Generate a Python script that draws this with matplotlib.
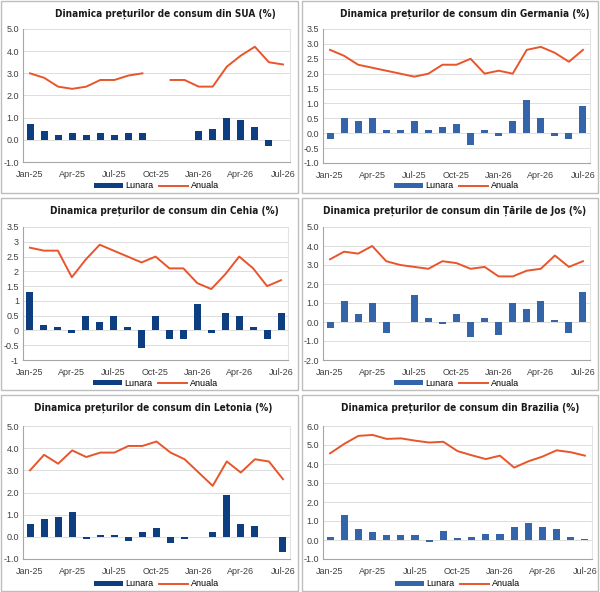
import matplotlib
matplotlib.use("Agg")
import matplotlib.pyplot as plt
import numpy as np
from matplotlib.patches import Rectangle

nan = np.nan

# months Jan-25 .. Jul-26
months = ["Jan-25", "Feb-25", "Mar-25", "Apr-25", "May-25", "Jun-25", "Jul-25",
          "Aug-25", "Sep-25", "Oct-25", "Nov-25", "Dec-25", "Jan-26", "Feb-26",
          "Mar-26", "Apr-26", "May-26", "Jun-26", "Jul-26"]
tick_idx = [0, 3, 6, 9, 12, 15, 18]

# monthly (Lunara) and yearly (Anuala) inflation
sua_lunara = [0.7, 0.4, 0.2, 0.3, 0.2, 0.3, 0.2, 0.3, 0.3, nan, nan, nan,
              0.4, 0.5, 1.0, 0.9, 0.6, -0.3, nan]
sua_anuala = [3.0, 2.8, 2.4, 2.3, 2.4, 2.7, 2.7, 2.9, 3.0, nan, 2.7, 2.7,
              2.4, 2.4, 3.3, 3.8, 4.2, 3.5, 3.4]

ger_lunara = [-0.2, 0.5, 0.4, 0.5, 0.1, 0.1, 0.4, 0.1, 0.2, 0.3, -0.4, 0.1,
              -0.1, 0.4, 1.1, 0.5, -0.1, -0.2, 0.9]
ger_anuala = [2.8, 2.6, 2.3, 2.2, 2.1, 2.0, 1.9, 2.0, 2.3, 2.3, 2.5, 2.0,
              2.1, 2.0, 2.8, 2.9, 2.7, 2.4, 2.8]

cz_lunara = [1.3, 0.2, 0.1, -0.1, 0.5, 0.3, 0.5, 0.1, -0.6, 0.5, -0.3, -0.3,
             0.9, -0.1, 0.6, 0.5, 0.1, -0.3, 0.6]
cz_anuala = [2.8, 2.7, 2.7, 1.8, 2.4, 2.9, 2.7, 2.5, 2.3, 2.5, 2.1, 2.1,
             1.6, 1.4, 1.9, 2.5, 2.1, 1.5, 1.7]

nl_lunara = [-0.3, 1.1, 0.4, 1.0, -0.6, nan, 1.4, 0.2, -0.1, 0.4, -0.8, 0.2,
             -0.7, 1.0, 0.7, 1.1, 0.1, -0.6, 1.6]
nl_anuala = [3.3, 3.7, 3.6, 4.0, 3.2, 3.0, 2.9, 2.8, 3.2, 3.1, 2.8, 2.9,
             2.4, 2.4, 2.7, 2.8, 3.5, 2.9, 3.2]

lv_lunara = [0.6, 0.8, 0.9, 1.1, -0.1, 0.1, 0.1, -0.2, 0.2, 0.4, -0.3, -0.1,
             nan, 0.2, 1.9, 0.6, 0.5, nan, -0.7]
lv_anuala = [3.0, 3.7, 3.3, 3.9, 3.6, 3.8, 3.8, 4.1, 4.1, 4.3, 3.8, 3.5,
             2.9, 2.3, 3.4, 2.9, 3.5, 3.4, 2.6]

br_lunara = [0.16, 1.31, 0.56, 0.43, 0.26, 0.24, 0.26, -0.11, 0.48, 0.09, 0.18, 0.33,
             0.33, 0.70, 0.88, 0.67, 0.58, 0.15, 0.07]
br_anuala = [4.56, 5.06, 5.48, 5.53, 5.32, 5.35, 5.23, 5.13, 5.17, 4.68, 4.46, 4.26,
             4.44, 3.81, 4.14, 4.39, 4.72, 4.62, 4.44]

W, H = 600, 592
fig = plt.figure(figsize=(6.0, 5.92), dpi=100)

text_font = ['Liberation Sans', 'DejaVu Sans']

dark = '#0d3f80'
mid = '#3464aa'
line_col = '#e8552b'

panels = [
    # title, lunara, anuala, ylim, yticks, fmt, bar colour, panel box, axes box (px), title centre x
    ("SUA", sua_lunara, sua_anuala, (-1, 5), np.arange(-1, 5.1, 1), "{:.1f}", dark,
     (1, 1, 298, 193), (23, 29, 290, 162), 165),
    ("Germania", ger_lunara, ger_anuala, (-1, 3.5), np.arange(-1, 3.51, 0.5), "{:.1f}", mid,
     (302, 1, 598, 193), (323, 29, 590, 163), 465),
    ("Cehia", cz_lunara, cz_anuala, (-1, 3.5), np.arange(-1, 3.51, 0.5), "{:g}", dark,
     (1, 198, 298, 390), (23, 227, 288, 360), 164),
    ("Țările de Jos", nl_lunara, nl_anuala, (-2, 5), np.arange(-2, 5.1, 1), "{:.1f}", mid,
     (302, 198, 598, 390), (323, 227, 590, 360), 455),
    ("Letonia", lv_lunara, lv_anuala, (-1, 5), np.arange(-1, 5.1, 1), "{:.1f}", dark,
     (1, 395, 298, 591), (23, 426, 290, 559), 153),
    ("Brazilia", br_lunara, br_anuala, (-1, 6), np.arange(-1, 6.1, 1), "{:.1f}", mid,
     (302, 395, 598, 591), (323, 426, 592, 559), 460),
]

x = np.arange(len(months))

for name, lun, anu, ylim, yt, fmt, bcol, pbox, abox, tcx in panels:
    # panel border
    px0, py0, px1, py1 = pbox
    fig.patches.append(Rectangle((px0 / W, 1 - py1 / H), (px1 - px0) / W, (py1 - py0) / H,
                                 transform=fig.transFigure, fill=False,
                                 edgecolor='#bdbdbd', linewidth=1.0))
    l, t, r, b = abox
    ax = fig.add_axes([l / W, 1 - b / H, (r - l) / W, (b - t) / H])
    bars = ax.bar(x, lun, width=0.5, color=bcol, label="Lunara", zorder=2)
    ln, = ax.plot(x, anu, color=line_col, linewidth=1.4, label="Anuala", zorder=3)
    ax.set_xlim(-0.5, len(months) - 0.5)
    ax.set_ylim(*ylim)
    ax.set_yticks(yt)
    ax.set_yticklabels([fmt.format(v) for v in yt], fontsize=6.5, family=text_font, color='#404040')
    ax.set_xticks(tick_idx)
    ax.set_xticklabels([months[i] for i in tick_idx], fontsize=6.5, family=text_font, color='#404040')
    ax.grid(axis='y', color='#dddddd', linewidth=0.7, zorder=0)
    ax.set_axisbelow(True)
    ax.spines['top'].set_visible(False)
    ax.spines['right'].set_color('#e3e3e3')
    ax.spines['left'].set_color('#a6a6a6')
    ax.spines['bottom'].set_color('#a6a6a6')
    ax.tick_params(axis='both', length=0, pad=3)
    ax.tick_params(axis='x', pad=6)
    fig.text(tcx / W, 1 - (py0 + 13) / H, "Dinamica prețurilor de consum din " + name + " (%)",
             ha='center', va='center', fontsize=7.2, fontweight='bold',
             family=['DejaVu Sans'], fontstretch='condensed', color='#1a1a1a')
    ax.legend(handles=[bars, ln], loc='center', bbox_to_anchor=(0.5, -(py1 - 7 - b) / (b - t)),
              ncol=2, frameon=False, handlelength=3.2,
              handleheight=0.5, columnspacing=0.6, handletextpad=0.3,
              prop={'family': text_font, 'size': 6.5})

fig.savefig("out.png", dpi=100)
